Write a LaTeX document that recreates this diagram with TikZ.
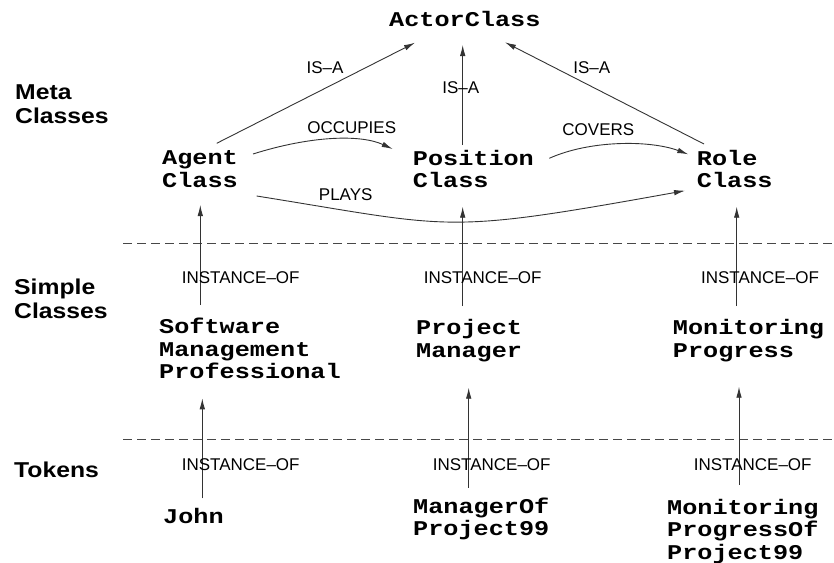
\documentclass[tikz,border=0pt]{standalone}
\usepackage{fontspec}
\usetikzlibrary{arrows.meta}
\newfontfamily\monob[FakeStretch=1.2]{Liberation Mono}
\newfontfamily\headf[FakeStretch=1.15]{Liberation Sans}
\newfontfamily\lblf{Liberation Sans}
% left-aligned lines whose baseline is that of the first line
\newcommand{\tlines}[1]{\vtop{\halign{##\hfil\cr#1\crcr}}}
\begin{document}
\begin{tikzpicture}[x=1pt,y=-1pt,
  cls/.style={inner sep=0pt,anchor=base west,
    font=\monob\bfseries\fontsize{21}{22.5}\selectfont},
  layer/.style={inner sep=0pt,anchor=base west,
    font=\headf\bfseries\fontsize{21.5}{24}\selectfont},
  lbl/.style={inner sep=0pt,font=\lblf\fontsize{17}{19}\selectfont},
  arr/.style={draw=black!80,line width=0.9pt,-{Latex[length=11pt,width=5.5pt]}},
  sep/.style={draw=black!72,line width=1.6pt,dash pattern=on 9pt off 5pt}]
\useasboundingbox (0,0) rectangle (834,562);

% layer headings
\node[layer] (hmeta) at (15,99.3) {\tlines{Meta\cr Classes}};
\node[layer] (hsimple) at (14,294) {\tlines{Simple\cr Classes}};
\node[layer] (htok) at (14,477) {Tokens};

% layer separators
\draw[sep] (123,243.5) -- (834,243.5);
\draw[sep] (123,439.5) -- (834,439.5);

% classes
\node[cls] (actor) at (389,26) {ActorClass};
\node[cls] (agent) at (162,164.5) {\tlines{Agent\cr Class}};
\node[cls] (position) at (412.7,165) {\tlines{Position\cr Class}};
\node[cls] (role) at (696.7,165) {\tlines{Role\cr Class}};
\node[cls] (software) at (159,333.5) {\tlines{Software\cr Management\cr Professional}};
\node[cls] (project) at (416,334.5) {\tlines{Project\cr Manager}};
\node[cls] (monitor) at (672.7,334.5) {\tlines{Monitoring\cr Progress}};
\node[cls] (john) at (163,523) {John};
\node[cls] (mgrof) at (413,513) {\tlines{ManagerOf\cr Project99}};
\node[cls] (monof) at (667,514) {\tlines{Monitoring\cr ProgressOf\cr Project99}};

% IS-A links
\draw[arr] ([shift={(54.7,-21.2)}]agent.base west) -- ([shift={(26,16.7)}]actor.base west);
\draw[arr] ([shift={(50,-20)}]position.base west) -- ([shift={(73.7,19)}]actor.base west);
\draw[arr] ([shift={(7.3,-21)}]role.base west) -- ([shift={(116,16.3)}]actor.base west);
\node[lbl] (isa1) at (325,68) {IS\textendash A};
\node[lbl] (isa2) at (460.7,87.3) {IS\textendash A};
\node[lbl] (isa3) at (591.7,67.7) {IS\textendash A};

% relations between meta classes
\draw[arr] ([shift={(91,-10.5)}]agent.base west)
  .. controls +(57,-18) and +(-32.7,-15) .. ([shift={(-20,-16)}]position.base west);
\draw[arr] ([shift={(136.6,-6.7)}]position.base west)
  .. controls +(40.7,-18.3) and +(-38.3,-14.3) .. ([shift={(-8.4,-10.7)}]role.base west);
\draw[arr] ([shift={(94.7,31.5)}]agent.base west)
  .. controls +(200,32) and +(-245,44.1) .. ([shift={(-11.7,25.7)}]role.base west);
\node[lbl] (occ) at (351.7,127.7) {OCCUPIES};
\node[lbl] (cov) at (598.3,130) {COVERS};
\node[lbl] (plays) at (345.7,194.3) {PLAYS};

% instance-of links
\draw[arr] ([shift={(41.3,-28.5)}]software.base west) -- ([shift={(38.3,40.5)}]agent.base west);
\draw[arr] ([shift={(46.7,-28.5)}]project.base west) -- ([shift={(50,41.7)}]position.base west);
\draw[arr] ([shift={(64,-28.5)}]monitor.base west) -- ([shift={(40,41.7)}]role.base west);
\draw[arr] ([shift={(39.3,-24.7)}]john.base west) -- ([shift={(43.3,64.8)}]software.base west);
\draw[arr] ([shift={(55.7,-25.3)}]mgrof.base west) -- ([shift={(52.7,53.2)}]project.base west);
\draw[arr] ([shift={(72,-29)}]monof.base west) -- ([shift={(66.3,52.2)}]monitor.base west);
\node[lbl] (io1) at (240.7,277.3) {INSTANCE\textendash OF};
\node[lbl] (io2) at (482.7,277.3) {INSTANCE\textendash OF};
\node[lbl] (io3) at (760,277.3) {INSTANCE\textendash OF};
\node[lbl] (io4) at (240.7,464.3) {INSTANCE\textendash OF};
\node[lbl] (io5) at (491.7,464.3) {INSTANCE\textendash OF};
\node[lbl] (io6) at (752.7,464.3) {INSTANCE\textendash OF};
\end{tikzpicture}
\end{document}
